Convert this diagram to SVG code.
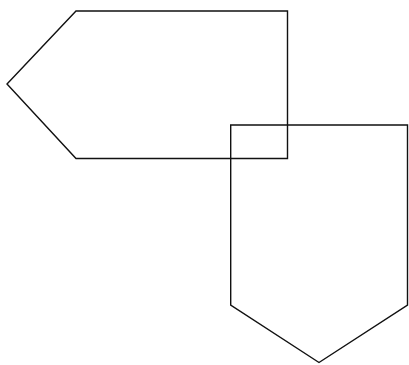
<svg xmlns="http://www.w3.org/2000/svg" width="409" height="365" viewBox="0 0 409 365">
<style>.s{fill:none;stroke:#111;stroke-width:1.4;stroke-linejoin:miter}</style>
<rect width="409" height="365" fill="#fff"/>
<g id="shape-left"><polygon class="s" points="76,11 287.5,11 287.5,158.5 76,158.5 7,84"/></g>
<g id="shape-down"><polygon class="s" points="230.7,125 407.5,125 407.5,305 319,362.5 230.7,305"/></g>
<g id="connectors"></g>
</svg>
